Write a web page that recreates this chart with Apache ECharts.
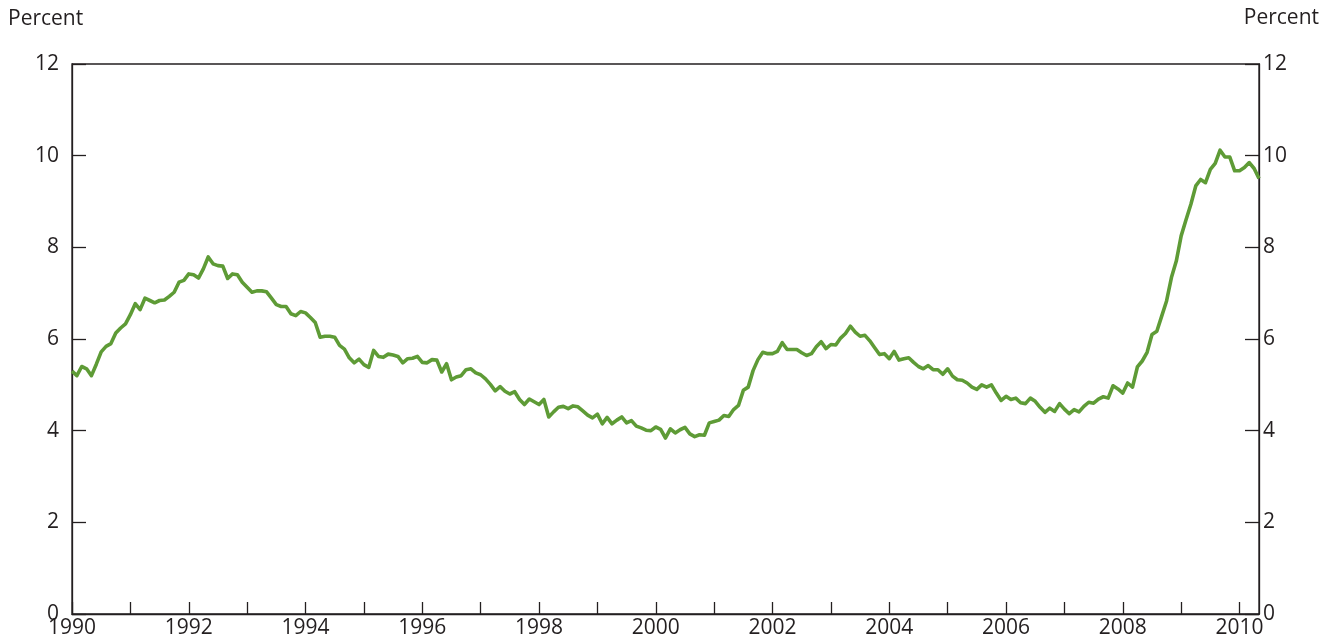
<!DOCTYPE html>
<html>
<head>
<meta charset="utf-8">
<script src="https://cdn.jsdelivr.net/npm/echarts@6/dist/echarts.min.js"></script>
<style>
  html, body { margin: 0; padding: 0; background: #fff; }
  #chart { width: 1330px; height: 641px; }
</style>
</head>
<body>
<div id="chart"></div>
<script>
// monthly unemployment rate, percent, Jan 1990 - May 2010
const years = [1990, 1991, 1992, 1993, 1994, 1995, 1996, 1997, 1998, 1999,
  2000, 2001, 2002, 2003, 2004, 2005, 2006, 2007, 2008, 2009, 2010]
const monthNames = ['Jan', 'Feb', 'Mar', 'Apr', 'May', 'Jun', 'Jul', 'Aug', 'Sep', 'Oct', 'Nov', 'Dec']

const rate1990 = [5.3, 5.2, 5.4, 5.35, 5.2, 5.45, 5.72, 5.84, 5.9, 6.13, 6.24, 6.33]
const rate1991 = [6.53, 6.77, 6.64, 6.89, 6.84, 6.79, 6.84, 6.85, 6.93, 7.02, 7.24, 7.28]
const rate1992 = [7.42, 7.4, 7.33, 7.53, 7.79, 7.64, 7.6, 7.59, 7.32, 7.42, 7.4, 7.24]
const rate1993 = [7.13, 7.02, 7.05, 7.05, 7.03, 6.89, 6.75, 6.71, 6.71, 6.55, 6.51, 6.6]
const rate1994 = [6.57, 6.47, 6.36, 6.04, 6.06, 6.06, 6.04, 5.86, 5.78, 5.59, 5.48, 5.56]
const rate1995 = [5.44, 5.38, 5.75, 5.62, 5.6, 5.67, 5.65, 5.62, 5.48, 5.57, 5.58, 5.62]
const rate1996 = [5.49, 5.48, 5.55, 5.54, 5.28, 5.46, 5.11, 5.17, 5.2, 5.33, 5.35, 5.26]
const rate1997 = [5.22, 5.13, 5.01, 4.87, 4.96, 4.86, 4.8, 4.85, 4.68, 4.57, 4.69, 4.63]
const rate1998 = [4.57, 4.68, 4.3, 4.41, 4.51, 4.53, 4.48, 4.54, 4.52, 4.43, 4.34, 4.28]
const rate1999 = [4.36, 4.15, 4.29, 4.15, 4.23, 4.3, 4.17, 4.22, 4.1, 4.06, 4.01, 4.0]
const rate2000 = [4.08, 4.03, 3.84, 4.04, 3.95, 4.02, 4.07, 3.93, 3.87, 3.91, 3.9, 4.17]
const rate2001 = [4.2, 4.23, 4.33, 4.31, 4.46, 4.55, 4.88, 4.95, 5.31, 5.55, 5.71, 5.68]
const rate2002 = [5.68, 5.73, 5.92, 5.77, 5.77, 5.77, 5.7, 5.64, 5.68, 5.83, 5.94, 5.79]
const rate2003 = [5.88, 5.87, 6.02, 6.12, 6.28, 6.15, 6.06, 6.08, 5.96, 5.81, 5.66, 5.68]
const rate2004 = [5.57, 5.73, 5.54, 5.57, 5.59, 5.49, 5.4, 5.35, 5.42, 5.33, 5.33, 5.23]
const rate2005 = [5.35, 5.19, 5.11, 5.1, 5.04, 4.95, 4.9, 5.0, 4.95, 5.0, 4.82, 4.66]
const rate2006 = [4.75, 4.68, 4.71, 4.61, 4.59, 4.71, 4.64, 4.51, 4.4, 4.49, 4.42, 4.59]
const rate2007 = [4.47, 4.37, 4.46, 4.41, 4.53, 4.62, 4.6, 4.69, 4.74, 4.71, 4.98, 4.91]
const rate2008 = [4.82, 5.04, 4.95, 5.39, 5.52, 5.71, 6.1, 6.17, 6.5, 6.83, 7.34, 7.7]
const rate2009 = [8.25, 8.6, 8.94, 9.34, 9.48, 9.41, 9.7, 9.83, 10.12, 9.97, 9.97, 9.67]
const rate2010 = [9.67, 9.74, 9.85, 9.72, 9.5]

const rates = [].concat(rate1990, rate1991, rate1992, rate1993, rate1994, rate1995,
  rate1996, rate1997, rate1998, rate1999, rate2000, rate2001, rate2002, rate2003,
  rate2004, rate2005, rate2006, rate2007, rate2008, rate2009, rate2010)

let months = []
years.forEach(y => {
  monthNames.forEach(m => months.push(m + ' ' + y))
})
months = months.slice(0, rates.length)

const axisColor = '#231f20'
const font = 'Open Sans'

const yAxisBase = {
  type: 'value',
  min: 0,
  max: 12,
  interval: 2,
  splitLine: {show: false},
  axisLine: {show: true, lineStyle: {color: axisColor, width: 1.3}},
  axisTick: {show: true, inside: true, length: 14, lineStyle: {color: axisColor, width: 1.3}},
}

const chart = echarts.init(document.getElementById('chart'))
chart.setOption({
  animation: false,
  textStyle: {fontFamily: font},
  grid: {
    left: 72, right: 71, top: 64, bottom: 27,
    show: true, borderColor: axisColor, borderWidth: 1.3
  },
  graphic: [
    {type: 'text', left: 8, top: 9,
      style: {text: 'Percent', font: '21px "Open Sans"', fill: axisColor}},
    {type: 'text', right: 11, top: 8,
      style: {text: 'Percent', font: '21px "Open Sans"', fill: axisColor}}
  ],
  xAxis: {
    type: 'category',
    data: months,
    boundaryGap: false,
    axisLine: {lineStyle: {color: axisColor, width: 1.3}},
    axisTick: {
      inside: true, length: 12,
      interval: (i) => i % 12 === 0,
      lineStyle: {color: axisColor, width: 1.3}
    },
    axisLabel: {
      interval: (i) => i % 24 === 0,
      formatter: (v) => v.split(' ')[1],
      color: axisColor, fontSize: 21, fontFamily: font, margin: 4
    },
    splitLine: {show: false}
  },
  yAxis: [
    Object.assign({}, yAxisBase, {
      position: 'left',
      axisLabel: {color: axisColor, fontSize: 21, fontFamily: font, margin: 13}
    }),
    Object.assign({}, yAxisBase, {
      position: 'right',
      axisLabel: {color: axisColor, fontSize: 21, fontFamily: font, margin: 4}
    })
  ],
  series: [
    {
      name: 'Unemployment rate',
      type: 'line',
      data: rates,
      showSymbol: false,
      symbol: 'none',
      lineStyle: {color: '#5e9b36', width: 3.6, join: 'round'},
      z: 1
    }
  ]
})
</script>
</body>
</html>
